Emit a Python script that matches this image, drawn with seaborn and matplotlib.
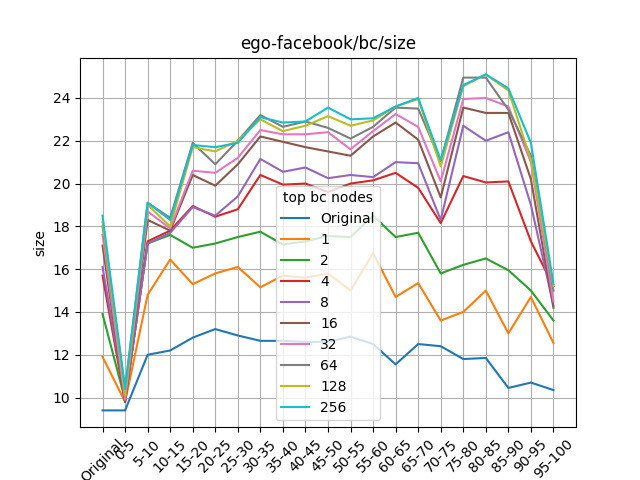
import pandas as pd
import matplotlib
matplotlib.use("Agg")
import matplotlib.pyplot as plt
import seaborn as sns

cats = ["Original", "0-5", "5-10", "10-15", "15-20", "20-25", "25-30", "30-35", "35-40", "40-45",
        "45-50", "50-55", "55-60", "60-65", "65-70", "70-75", "75-80", "80-85", "85-90", "90-95", "95-100"]

s_orig = [9.4, 9.4, 12.0, 12.2, 12.8, 13.2, 12.9, 12.65, 12.65, 12.6, 12.6, 12.85, 12.5, 11.55, 12.5, 12.4, 11.8, 11.85, 10.45, 10.7, 10.35]
s_1 = [11.9, 9.8, 14.8, 16.45, 15.3, 15.8, 16.1, 15.15, 15.7, 15.6, 15.8, 15.0, 16.75, 14.7, 15.35, 13.6, 14.0, 15.0, 13.0, 14.7, 12.55]
s_2 = [13.9, 9.9, 17.2, 17.6, 17.0, 17.2, 17.5, 17.75, 17.15, 17.3, 17.55, 17.5, 18.5, 17.5, 17.7, 15.8, 16.2, 16.5, 15.95, 15.0, 13.6]
s_4 = [15.7, 9.8, 17.3, 17.8, 18.95, 18.45, 18.8, 20.4, 19.95, 20.0, 19.6, 20.0, 20.15, 20.5, 19.8, 18.15, 20.35, 20.05, 20.1, 17.3, 15.2]
s_8 = [16.1, 9.9, 17.2, 17.7, 18.9, 18.5, 19.4, 21.15, 20.55, 20.75, 20.25, 20.4, 20.3, 21.0, 20.95, 18.3, 22.7, 22.0, 22.4, 19.0, 14.3]
s_16 = [17.1, 9.8, 18.3, 17.8, 20.4, 19.9, 20.9, 22.2, 21.95, 21.7, 21.5, 21.3, 22.2, 22.85, 22.05, 19.35, 23.55, 23.3, 23.3, 20.2, 14.2]
s_32 = [17.6, 9.9, 18.7, 17.9, 20.6, 20.5, 21.2, 22.5, 22.3, 22.3, 22.4, 21.6, 22.45, 23.25, 22.65, 20.1, 23.95, 24.0, 23.6, 21.0, 14.5]
s_64 = [18.0, 10.4, 19.1, 18.4, 21.9, 20.9, 22.0, 23.2, 22.65, 22.9, 22.6, 22.1, 22.65, 23.55, 23.5, 21.05, 24.95, 24.95, 23.45, 21.3, 15.0]
s_128 = [18.2, 10.1, 19.0, 18.0, 21.7, 21.5, 22.0, 23.0, 22.45, 22.7, 23.15, 22.7, 22.95, 23.6, 23.95, 20.8, 24.55, 25.1, 24.35, 21.1, 15.2]
s_256 = [18.5, 10.4, 19.1, 18.3, 21.8, 21.7, 21.9, 23.1, 22.85, 22.9, 23.55, 23.0, 23.05, 23.6, 24.0, 21.1, 24.6, 25.1, 24.45, 21.9, 15.3]

series = {"Original": s_orig, "1": s_1, "2": s_2, "4": s_4, "8": s_8, "16": s_16,
          "32": s_32, "64": s_64, "128": s_128, "256": s_256}

rows = []
for name, vals in series.items():
    for c, v in zip(cats, vals):
        rows.append({"bin": c, "size": v, "top bc nodes": name})
df = pd.DataFrame(rows)

fig, ax = plt.subplots(figsize=(6.4, 4.8), dpi=100)
sns.lineplot(data=df, x="bin", y="size", hue="top bc nodes", palette="tab10", sort=False, ax=ax)
ax.grid(True, color="#b0b0b0")
ax.set_axisbelow(True)
ax.set_xlabel("")
ax.set_ylabel("size")
ax.set_title("ego-facebook/bc/size")
ax.tick_params(axis="x", rotation=45)
ax.legend(title="top bc nodes", loc="lower center")
fig.savefig("out.png")
